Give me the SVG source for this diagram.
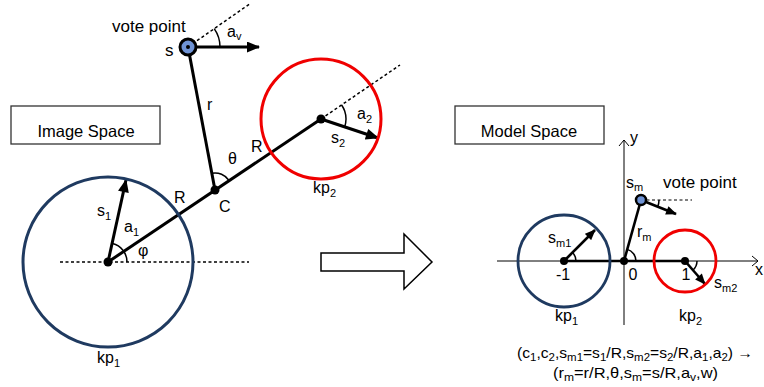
<svg xmlns="http://www.w3.org/2000/svg" width="764" height="387" viewBox="0 0 764 387">
<defs>
<style>
text{font-family:"Liberation Sans",Arial,sans-serif;fill:#000}
.lbl{font-size:16px}
.sub{font-size:11px}
.box{fill:#fff;stroke:#333;stroke-width:1.3}
.ttl{font-size:16.5px;text-anchor:middle}
.thick{stroke:#000;stroke-width:3;fill:none}
.mthick{stroke:#000;stroke-width:2.6;fill:none}
.dot{stroke:#000;stroke-width:1.5;stroke-dasharray:3 2.5;fill:none}
.arc{stroke:#000;stroke-width:1.5;fill:none}
.axis{stroke:#000;stroke-width:1;fill:none}
.blue{stroke:#1f3a60;stroke-width:3;fill:none}
.red{stroke:#f00000;stroke-width:3;fill:none}
.vp{fill:#6f93d5;stroke:#000;stroke-width:3}
</style>
<marker id="ah" viewBox="0 0 12 10" refX="11" refY="5" markerWidth="14" markerHeight="11" markerUnits="userSpaceOnUse" orient="auto">
<path d="M0,0 L12,5 L0,10 Z" fill="#000"/>
</marker>
<marker id="ahs" viewBox="0 0 12 10" refX="11" refY="5" markerWidth="12" markerHeight="9" markerUnits="userSpaceOnUse" orient="auto">
<path d="M0,0 L12,5 L0,10 Z" fill="#000"/>
</marker>
</defs>

<g id="image-space-label">
<rect class="box" x="11" y="106" width="149" height="38"/>
<text class="ttl" x="86" y="137">Image Space</text>
</g>

<g id="model-space-label">
<rect class="box" x="455" y="106" width="149" height="38"/>
<text class="ttl" x="529" y="137">Model Space</text>
</g>

<g id="connectors">
<line class="dot" x1="60" y1="262" x2="249" y2="262"/>
<line class="dot" x1="321" y1="119" x2="400" y2="65"/>
<line class="dot" x1="188" y1="47" x2="251" y2="3"/>
<line class="thick" x1="108" y1="262" x2="321" y2="119"/>
<line class="thick" x1="188" y1="47" x2="215" y2="190"/>
<line class="thick" x1="108" y1="262" x2="126" y2="180" marker-end="url(#ah)"/>
<line class="thick" x1="321" y1="119" x2="378" y2="138" marker-end="url(#ah)"/>
<line class="thick" x1="188" y1="47" x2="259" y2="47" marker-end="url(#ah)"/>
<path class="arc" d="M127,262 A19,19 0 0 0 112.5,243.5"/>
<path class="arc" d="M211.8,173.3 A17,17 0 0 1 229.1,180.5"/>
<path class="arc" d="M341.6,105 A25,25 0 0 1 344.7,111.1 A25,25 0 0 1 344.7,126.9"/>
<path class="arc" d="M214.2,28.6 A32,32 0 0 1 220,47"/>
</g>

<g id="kp1">
<circle class="blue" cx="108" cy="262" r="85"/>
<circle cx="108" cy="262" r="4.5" fill="#000"/>
<text class="lbl" x="97" y="363">kp<tspan class="sub" dy="4">1</tspan></text>
<text class="lbl" x="97" y="216">s<tspan class="sub" dy="4">1</tspan></text>
<text class="lbl" x="124" y="232">a<tspan class="sub" dy="4">1</tspan></text>
<text class="lbl" x="138" y="256">φ</text>
</g>

<g id="C">
<circle cx="215" cy="190" r="4.5" fill="#000"/>
<text class="lbl" x="219" y="212">C</text>
<text class="lbl" x="228" y="164">θ</text>
<text class="lbl" x="207" y="110">r</text>
<text class="lbl" x="251" y="152">R</text>
<text class="lbl" x="174" y="203">R</text>
</g>

<g id="kp2">
<circle class="red" cx="321" cy="119" r="60"/>
<circle cx="321" cy="119" r="4.5" fill="#000"/>
<text class="lbl" x="313" y="193">kp<tspan class="sub" dy="4">2</tspan></text>
<text class="lbl" x="357" y="119">a<tspan class="sub" dy="4">2</tspan></text>
<text class="lbl" x="331" y="143">s<tspan class="sub" dy="4">2</tspan></text>
</g>

<g id="vote-point">
<circle class="vp" cx="188" cy="47" r="8"/>
<circle cx="188" cy="47" r="2" fill="#000"/>
<text class="lbl" x="112" y="32" style="font-size:17px">vote point</text>
<text class="lbl" x="165" y="56" style="font-size:17px">s</text>
<text class="lbl" x="227" y="37">a<tspan class="sub" dy="3">v</tspan></text>
</g>

<g id="transform-arrow">
<polygon points="321,253 404,253 404,234 432,262 404,289 404,271 321,271" fill="#fff" stroke="#000" stroke-width="1.5"/>
</g>

<g id="model-axes">
<line class="axis" x1="624" y1="140" x2="624" y2="325"/>
<polyline class="axis" points="619,146 624,140 629,146"/>
<line class="axis" x1="497" y1="261" x2="758" y2="261"/>
<polyline class="axis" points="752,256 758,261 752,266"/>
<text class="lbl" x="630" y="143">y</text>
<text class="lbl" x="755" y="275">x</text>
<text class="lbl" x="563" y="280" text-anchor="middle">-1</text>
<text class="lbl" x="633" y="280" text-anchor="middle">0</text>
<text class="lbl" x="686" y="280" text-anchor="middle">1</text>
</g>

<g id="model-connectors">
<line class="mthick" x1="564" y1="261" x2="685" y2="261"/>
<line class="mthick" x1="641" y1="200" x2="624" y2="261"/>
<line class="dot" x1="641" y1="200" x2="692" y2="200" style="stroke-width:1.2"/>
<line class="mthick" x1="564" y1="261" x2="595" y2="230" marker-end="url(#ahs)"/>
<line class="mthick" x1="685" y1="261" x2="705" y2="284" marker-end="url(#ahs)"/>
<line class="mthick" x1="641" y1="200" x2="676" y2="214" marker-end="url(#ahs)"/>
<path class="arc" d="M576,261 A12,12 0 0 0 572.5,252.5"/>
<path class="arc" d="M636,261 A12,12 0 0 0 627.2,249.4"/>
<path class="arc" d="M697,261 A12,12 0 0 1 693,270"/>
<path class="arc" d="M659,200 A18,18 0 0 1 657.7,206.7"/>
</g>

<g id="model-kp1">
<circle class="blue" cx="564" cy="261" r="46" style="stroke-width:2.8"/>
<circle cx="564" cy="261" r="4" fill="#000"/>
<text class="lbl" x="555" y="321">kp<tspan class="sub" dy="4">1</tspan></text>
<text class="lbl" x="548" y="243">s<tspan class="sub" dy="4">m1</tspan></text>
</g>

<g id="model-origin">
<circle cx="624" cy="261" r="4" fill="#000"/>
<text class="lbl" x="637" y="237">r<tspan class="sub" dy="4">m</tspan></text>
</g>

<g id="model-kp2">
<circle class="red" cx="685" cy="261" r="31" style="stroke-width:2.8"/>
<circle cx="685" cy="261" r="4" fill="#000"/>
<text class="lbl" x="679" y="321">kp<tspan class="sub" dy="4">2</tspan></text>
<text class="lbl" x="714" y="288">s<tspan class="sub" dy="4">m2</tspan></text>
</g>

<g id="model-vote-point">
<circle class="vp" cx="641" cy="200" r="5" style="stroke-width:2.5"/>
<text class="lbl" x="626" y="188">s<tspan class="sub" dy="3">m</tspan></text>
<text class="lbl" x="663" y="188" style="font-size:17px">vote point</text>
</g>

<g id="formula">
<text x="517" y="358" style="font-size:15px" textLength="236" lengthAdjust="spacingAndGlyphs">(c<tspan class="sub" dy="3">1</tspan><tspan dy="-3">,c</tspan><tspan class="sub" dy="3">2</tspan><tspan dy="-3">,s</tspan><tspan class="sub" dy="3">m1</tspan><tspan dy="-3">=s</tspan><tspan class="sub" dy="3">1</tspan><tspan dy="-3">/R,s</tspan><tspan class="sub" dy="3">m2</tspan><tspan dy="-3">=s</tspan><tspan class="sub" dy="3">2</tspan><tspan dy="-3">/R,a</tspan><tspan class="sub" dy="3">1</tspan><tspan dy="-3">,a</tspan><tspan class="sub" dy="3">2</tspan><tspan dy="-3">) →</tspan></text>
<text x="553" y="378" style="font-size:15px" textLength="165" lengthAdjust="spacingAndGlyphs">(r<tspan class="sub" dy="3">m</tspan><tspan dy="-3">=r/R,θ,s</tspan><tspan class="sub" dy="3">m</tspan><tspan dy="-3">=s/R,a</tspan><tspan class="sub" dy="3">v</tspan><tspan dy="-3">,w)</tspan></text>
</g>
</svg>
